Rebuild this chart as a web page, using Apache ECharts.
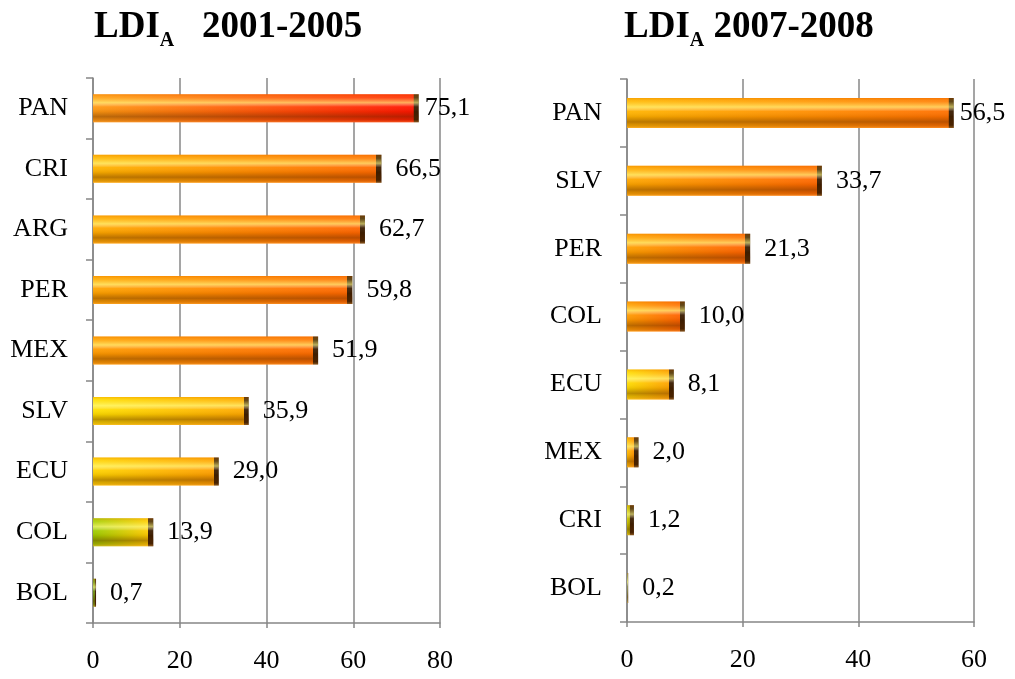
<!DOCTYPE html>
<html>
<head>
<meta charset="utf-8">
<script src="https://cdn.jsdelivr.net/npm/echarts@6/dist/echarts.min.js"></script>
<style>
  html, body { margin: 0; padding: 0; background: #fff; }
  #chart { width: 1015px; height: 679px; }
</style>
</head>
<body>
<div id="chart"></div>
<script>
// data
const leftCountries = ['PAN', 'CRI', 'ARG', 'PER', 'MEX', 'SLV', 'ECU', 'COL', 'BOL'];
const leftValues = [75.1, 66.5, 62.7, 59.8, 51.9, 35.9, 29.0, 13.9, 0.7];
const rightCountries = ['PAN', 'SLV', 'PER', 'COL', 'ECU', 'MEX', 'CRI', 'BOL'];
const rightValues = [56.5, 33.7, 21.3, 10.0, 8.1, 2.0, 1.2, 0.2];
const leftTicks = { min: 0, max: 80, step: 20 };
const rightTicks = { min: 0, max: 60, step: 20 };

// bar colours (left end, right end)
const leftColors = [
  ['#ff9a12', '#ff1400'], ['#ffb400', '#ff6a00'], ['#ffaa00', '#ff6600'],
  ['#ffa400', '#ff6800'], ['#ff9c00', '#ff6c00'], ['#ffe000', '#ffaa00'],
  ['#ffd400', '#ffa000'], ['#9ccc00', '#ffcc00'], ['#6a8a10', '#6a8a10']
];
const rightColors = [
  ['#ffb400', '#ff7000'], ['#ffa800', '#ff6800'], ['#ffa000', '#ff6400'],
  ['#ff9c00', '#ff6200'], ['#ffdc00', '#ffa400'], ['#ffbc00', '#ff9600'],
  ['#d0cc00', '#a8a000'], ['#8a8a50', '#8a8a50']
];

const font = '"Liberation Serif", "Times New Roman", serif';
const gray = '#878787';
const fmt = (p) => p.value.toFixed(1).replace('.', ',');

// horizontal colour with a dark bevel at the right end
function barItems(values, colors, pxPerUnit) {
  return values.map((v, i) => {
    const w = v * pxPerUnit;
    const dark = Math.min(5, w * 0.5);
    const edge = w > 0 ? 1 - dark / w : 0;
    const [c0, c1] = colors[i];
    return {
      value: v,
      itemStyle: {
        color: new echarts.graphic.LinearGradient(0, 0, 1, 0, [
          { offset: 0, color: c0 },
          { offset: Math.max(0, edge - 0.001), color: c1 },
          { offset: edge, color: '#3a1c00' },
          { offset: 1, color: '#3a1c00' }
        ])
      },
      label: i === 0 ? { distance: 6 } : undefined
    };
  });
}

// vertical shading on top of the bars (bevel look)
const bevel = new echarts.graphic.LinearGradient(0, 0, 0, 1, [
  { offset: 0, color: 'rgba(230,120,0,0.3)' },
  { offset: 0.12, color: 'rgba(255,240,120,0.2)' },
  { offset: 0.3, color: 'rgba(255,255,140,0.65)' },
  { offset: 0.45, color: 'rgba(255,255,255,0.05)' },
  { offset: 0.62, color: 'rgba(90,40,0,0.1)' },
  { offset: 0.8, color: 'rgba(90,40,0,0.42)' },
  { offset: 0.9, color: 'rgba(110,50,0,0.25)' },
  { offset: 1, color: 'rgba(255,170,70,0.45)' }
]);

const textBase = { fontFamily: font, fontSize: 26, color: '#000' };

function xAxis(gridIndex, t) {
  return {
    gridIndex, type: 'value', min: t.min, max: t.max, interval: t.step,
    axisLine: { show: true, lineStyle: { color: gray, width: 1.5 } },
    axisTick: { show: true, length: 5, lineStyle: { color: gray, width: 1.5 } },
    axisLabel: { ...textBase, margin: 25 },
    splitLine: { show: true, lineStyle: { color: gray, width: 1.5 } }
  };
}

function yAxis(gridIndex, cats) {
  return {
    gridIndex, type: 'category', data: cats, inverse: true,
    axisLine: { show: true, lineStyle: { color: gray, width: 1.5 } },
    axisTick: { show: true, length: 7, lineStyle: { color: gray, width: 1.5 } },
    axisLabel: { ...textBase, margin: 25 }
  };
}

function seriesPair(idx, values, colors, t, barWidth) {
  const pxPerUnit = 347 / (t.max - t.min);
  return [
    {
      type: 'bar', xAxisIndex: idx, yAxisIndex: idx, barWidth, barGap: '-100%',
      data: barItems(values, colors, pxPerUnit),
      label: { show: true, position: 'right', distance: 14, ...textBase, formatter: fmt }
    },
    {
      type: 'bar', xAxisIndex: idx, yAxisIndex: idx, barWidth, barGap: '-100%', silent: true,
      data: values, itemStyle: { color: bevel }
    }
  ];
}

const titleRich = {
  a: { fontFamily: font, fontSize: 37, fontWeight: 'bold', color: '#000' },
  s: { fontFamily: font, fontSize: 20, fontWeight: 'bold', color: '#000', padding: [27, 0, 0, 0] }
};

const chart = echarts.init(document.getElementById('chart'));
chart.setOption({
  animation: false,
  title: [
    { left: 94, top: 4, padding: 0, text: '{a|LDI}{s|A}{a|   2001-2005}', textStyle: { rich: titleRich } },
    { left: 624, top: 4, padding: 0, text: '{a|LDI}{s|A}{a| 2007-2008}', textStyle: { rich: titleRich } }
  ],
  grid: [
    { left: 93, top: 78, width: 347, height: 545 },
    { left: 627, top: 79, width: 347, height: 543 }
  ],
  xAxis: [xAxis(0, leftTicks), xAxis(1, rightTicks)],
  yAxis: [yAxis(0, leftCountries), yAxis(1, rightCountries)],
  series: [
    ...seriesPair(0, leftValues, leftColors, leftTicks, 28),
    ...seriesPair(1, rightValues, rightColors, rightTicks, 30)
  ]
});
</script>
</body>
</html>
